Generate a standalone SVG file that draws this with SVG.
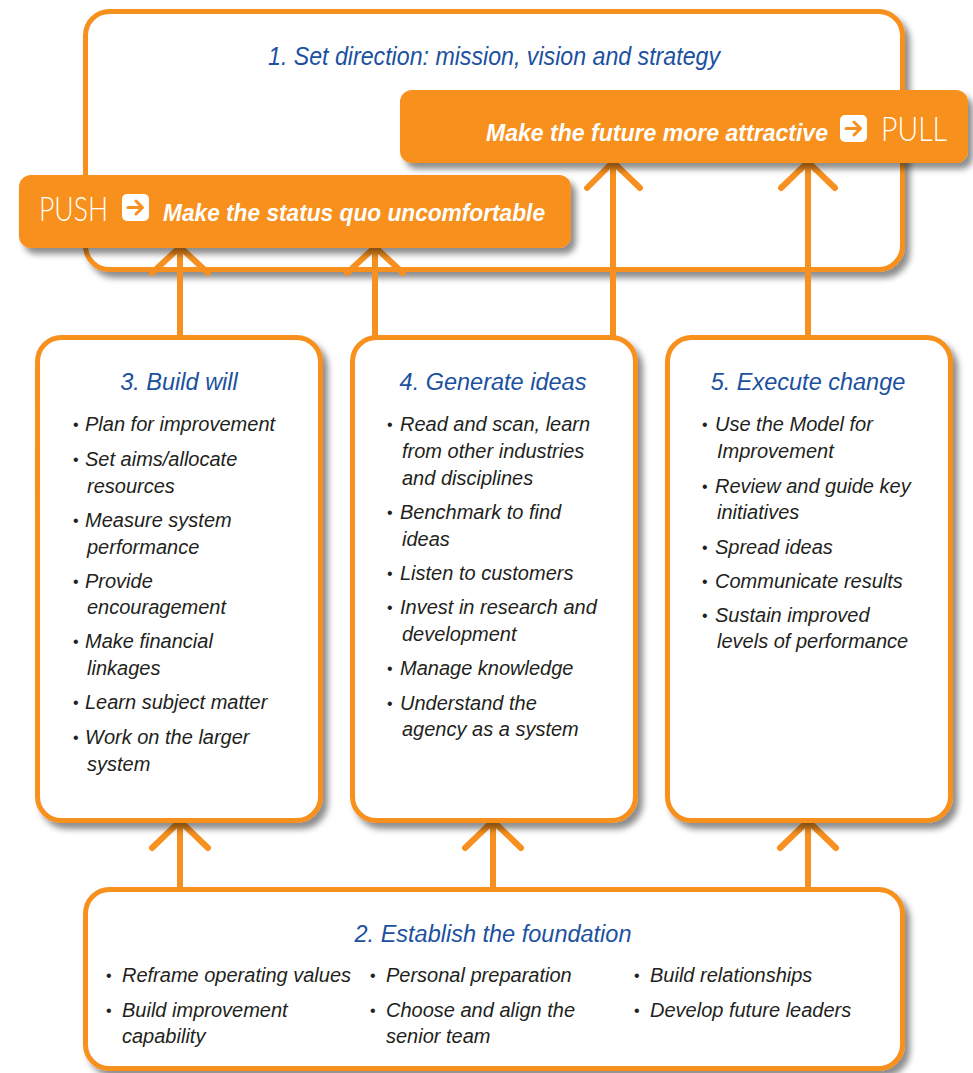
<svg xmlns="http://www.w3.org/2000/svg" width="973" height="1073" viewBox="0 0 973 1073">
<defs>
<filter id="sh" x="-10%" y="-10%" width="125%" height="130%">
<feDropShadow dx="5" dy="6" stdDeviation="3" flood-color="#000" flood-opacity="0.45"/>
</filter>
<style>
.box{fill:#fff;stroke:#F7901E;stroke-width:5}
.band{fill:#F7901E}
.con{fill:none;stroke:#F7901E;stroke-width:6;stroke-linecap:round;stroke-linejoin:round}
.h{font-family:"Liberation Sans",Arial,sans-serif;font-style:italic;font-size:23.5px;fill:#1B519F}
.b{font-family:"Liberation Sans",Arial,sans-serif;font-style:italic;font-size:20px;fill:#231F20}
.d{font-family:"Liberation Sans",Arial,sans-serif;font-size:16px;fill:#231F20}
.bt{font-family:"Liberation Sans",Arial,sans-serif;font-style:italic;font-weight:bold;font-size:23px;fill:#fff}
.pp{font-family:Lato,"Open Sans",sans-serif;font-weight:300;font-size:34px;fill:#fff}
.ic{fill:#fff}
.ia{fill:none;stroke:#F7901E;stroke-width:3;stroke-linecap:round;stroke-linejoin:round}
</style>
</defs>

<g id="node1">
<rect class="box" x="85.5" y="11.5" width="817" height="258" rx="24" filter="url(#sh)"/>
<text class="h" x="494" y="65" text-anchor="middle" textLength="452" lengthAdjust="spacingAndGlyphs" style="font-size:25px">1. Set direction: mission, vision and strategy</text>
</g>

<g id="connectors">
<path class="con" d="M180,335 V250 M152,273 L180,247 L208,273"/>
<path class="con" d="M375,335 V250 M347,273 L375,247 L403,273"/>
<path class="con" d="M613,335 V165 M587,188 L613,162 L640,188"/>
<path class="con" d="M808,335 V165 M781,188 L808,162 L835,188"/>
<path class="con" d="M180,887 V824 M152,848 L180,821 L208,848"/>
<path class="con" d="M493,887 V824 M465,848 L493,821 L521,848"/>
<path class="con" d="M808,887 V824 M780,848 L808,821 L836,848"/>
</g>

<g id="pull">
<rect class="band" x="400" y="90" width="568" height="73" rx="12" filter="url(#sh)"/>
<text class="bt" x="486" y="141" textLength="342" lengthAdjust="spacingAndGlyphs">Make the future more attractive</text>
<rect class="ic" x="840" y="115" width="27" height="27" rx="5"/>
<path class="ia" d="M846,128.5 H860 M854,122 L860.5,128.5 L854,135"/>
<text class="pp" x="881" y="141" textLength="66" lengthAdjust="spacingAndGlyphs">PULL</text>
</g>

<g id="push">
<rect class="band" x="19" y="175" width="552" height="73" rx="12" filter="url(#sh)"/>
<text class="pp" x="39" y="221" textLength="69" lengthAdjust="spacingAndGlyphs">PUSH</text>
<rect class="ic" x="122" y="194" width="27" height="27" rx="5"/>
<path class="ia" d="M128,207.5 H142 M136,201 L142.5,207.5 L136,214"/>
<text class="bt" x="163" y="221" textLength="382" lengthAdjust="spacingAndGlyphs">Make the status quo uncomfortable</text>
</g>

<g id="node3">
<rect class="box" x="37.5" y="337.5" width="283" height="483" rx="24" filter="url(#sh)"/>
<text class="h" x="179" y="390" text-anchor="middle">3. Build will</text>
<g class="d"><text x="73" y="430">•</text><text x="73" y="465">•</text><text x="73" y="526">•</text><text x="73" y="587">•</text><text x="73" y="647">•</text><text x="73" y="708">•</text><text x="73" y="743">•</text></g>
<g class="b">
<text x="85" y="431">Plan for improvement</text>
<text x="85" y="466">Set aims/allocate</text>
<text x="87" y="493">resources</text>
<text x="85" y="527">Measure system</text>
<text x="87" y="554">performance</text>
<text x="85" y="588">Provide</text>
<text x="87" y="614">encouragement</text>
<text x="85" y="648">Make financial</text>
<text x="87" y="675">linkages</text>
<text x="85" y="709">Learn subject matter</text>
<text x="85" y="744">Work on the larger</text>
<text x="87" y="771">system</text>
</g>
</g>

<g id="node4">
<rect class="box" x="352.5" y="337.5" width="283" height="483" rx="24" filter="url(#sh)"/>
<text class="h" x="493" y="390" text-anchor="middle">4. Generate ideas</text>
<g class="d"><text x="387" y="430">•</text><text x="387" y="518">•</text><text x="387" y="579">•</text><text x="387" y="613">•</text><text x="387" y="674">•</text><text x="387" y="709">•</text></g>
<g class="b">
<text x="400" y="431">Read and scan, learn</text>
<text x="402" y="458">from other industries</text>
<text x="402" y="485">and disciplines</text>
<text x="400" y="519">Benchmark to find</text>
<text x="402" y="546">ideas</text>
<text x="400" y="580">Listen to customers</text>
<text x="400" y="614">Invest in research and</text>
<text x="402" y="641">development</text>
<text x="400" y="675">Manage knowledge</text>
<text x="400" y="710">Understand the</text>
<text x="402" y="736">agency as a system</text>
</g>
</g>

<g id="node5">
<rect class="box" x="667.5" y="337.5" width="283" height="483" rx="24" filter="url(#sh)"/>
<text class="h" x="808" y="390" text-anchor="middle">5. Execute change</text>
<g class="d"><text x="702" y="430">•</text><text x="702" y="492">•</text><text x="702" y="553">•</text><text x="702" y="587">•</text><text x="702" y="621">•</text></g>
<g class="b">
<text x="715" y="431">Use the Model for</text>
<text x="717" y="458">Improvement</text>
<text x="715" y="493">Review and guide key</text>
<text x="717" y="519">initiatives</text>
<text x="715" y="554">Spread ideas</text>
<text x="715" y="588">Communicate results</text>
<text x="715" y="622">Sustain improved</text>
<text x="717" y="648">levels of performance</text>
</g>
</g>

<g id="node2">
<rect class="box" x="85.5" y="889.5" width="817" height="179" rx="24" filter="url(#sh)"/>
<text class="h" x="493" y="942" text-anchor="middle">2. Establish the foundation</text>
<g class="d"><text x="106" y="981">•</text><text x="106" y="1016">•</text><text x="370" y="981">•</text><text x="370" y="1016">•</text><text x="634" y="981">•</text><text x="634" y="1016">•</text></g>
<g class="b">
<text x="122" y="982">Reframe operating values</text>
<text x="122" y="1017">Build improvement</text>
<text x="122" y="1043">capability</text>
<text x="386" y="982">Personal preparation</text>
<text x="386" y="1017">Choose and align the</text>
<text x="386" y="1043">senior team</text>
<text x="650" y="982">Build relationships</text>
<text x="650" y="1017">Develop future leaders</text>
</g>
</g>
</svg>
